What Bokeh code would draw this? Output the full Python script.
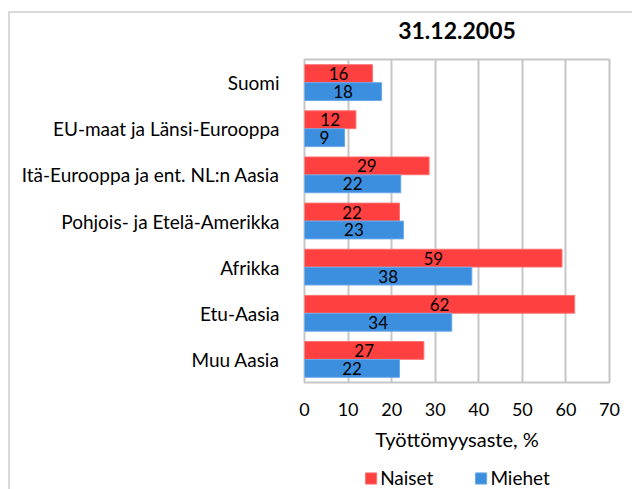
from bokeh.plotting import figure
from bokeh.layouts import column
from bokeh.models import ColumnDataSource, FactorRange, Legend, LegendItem, SingleIntervalTicker
from bokeh.transform import dodge
from bokeh.core.properties import value
from bokeh.embed import file_html
from bokeh.resources import INLINE

categories = ["Suomi", "EU-maat ja Länsi-Eurooppa", "Itä-Eurooppa ja ent. NL:n Aasia",
              "Pohjois- ja Etelä-Amerikka", "Afrikka", "Etu-Aasia", "Muu Aasia"]
naiset = [15.6, 11.8, 28.6, 21.8, 59.1, 62.0, 27.4]
miehet = [17.7, 9.2, 22.1, 22.7, 38.4, 33.8, 21.8]
series_names = ["Naiset", "Miehet"]
title = "31.12.2005"
x_label = "Työttömyysaste, %"

FONT = "Lato"
RED = "#FF4040"
BLUE = "#3C8EDE"
GRID = "#C6C6C6"
W = 622
LEFT, RIGHT = 294, 23
X_RANGE = (0, 70)

# ---------- title strip ----------
tf = figure(width=W, height=44, x_range=X_RANGE, y_range=(0, 1),
            min_border_left=LEFT, min_border_right=RIGHT, min_border_top=0, min_border_bottom=0,
            x_axis_location=None, y_axis_location=None,
            output_backend="svg", toolbar_location=None)
tf.outline_line_color = None
tf.grid.grid_line_color = None
tf.text(x=[sum(X_RANGE) / 2], y=[0.61], text=[title], text_align="center", text_baseline="middle",
        text_font=value(FONT), text_font_size="23px", text_font_style="bold", text_color="#000000")

# ---------- main chart ----------
src = ColumnDataSource(dict(
    cat=categories,
    naiset=naiset,
    miehet=miehet,
    naiset_mid=[v / 2 for v in naiset],
    miehet_mid=[v / 2 for v in miehet],
    naiset_lbl=[str(round(v)) for v in naiset],
    miehet_lbl=[str(round(v)) for v in miehet],
))

p = figure(
    y_range=FactorRange(factors=list(reversed(categories))),
    x_range=X_RANGE,
    width=W, height=402,
    min_border_left=LEFT, min_border_right=RIGHT, min_border_top=2, min_border_bottom=77,
    output_backend="svg", toolbar_location=None,
)

p.hbar(y=dodge("cat", 0.195, range=p.y_range), right="naiset", left=0, height=0.385,
       source=src, fill_color=RED, line_color="#FF7070", line_width=1)
p.hbar(y=dodge("cat", -0.195, range=p.y_range), right="miehet", left=0, height=0.385,
       source=src, fill_color=BLUE, line_color="#6AA8E8", line_width=1)

p.text(x="naiset_mid", y=dodge("cat", 0.195, range=p.y_range), text="naiset_lbl", source=src,
       text_align="center", text_baseline="middle", text_font=value(FONT),
       text_font_size="17px", text_color="#000000")
p.text(x="miehet_mid", y=dodge("cat", -0.195, range=p.y_range), text="miehet_lbl", source=src,
       text_align="center", text_baseline="middle", text_font=value(FONT),
       text_font_size="17px", text_color="#000000")

p.xaxis.ticker = SingleIntervalTicker(interval=10)
p.xaxis.axis_line_color = None
p.xaxis.major_tick_line_color = None
p.xaxis.minor_tick_line_color = None
p.xaxis.major_tick_out = 0
p.xaxis.major_tick_in = 0
p.xaxis.minor_tick_out = 0
p.xaxis.major_label_text_font = FONT
p.xaxis.major_label_text_font_size = "18px"
p.xaxis.major_label_text_color = "#000000"
p.xaxis.major_label_standoff = 20
p.xaxis.axis_label = x_label
p.xaxis.axis_label_text_font = FONT
p.xaxis.axis_label_text_font_size = "20px"
p.xaxis.axis_label_text_font_style = "normal"
p.xaxis.axis_label_text_color = "#000000"
p.xaxis.axis_label_standoff = 8

p.yaxis.axis_line_color = None
p.yaxis.major_tick_line_color = None
p.yaxis.major_tick_out = 0
p.yaxis.major_tick_in = 0
p.yaxis.major_label_text_font = FONT
p.yaxis.major_label_text_font_size = "19px"
p.yaxis.major_label_text_color = "#000000"
p.yaxis.major_label_standoff = 25

p.ygrid.grid_line_color = None
p.xgrid.grid_line_color = GRID
p.xgrid.grid_line_width = 2
p.outline_line_color = GRID
p.outline_line_width = 2

# ---------- legend strip ----------
lf = figure(width=W, height=30, x_range=X_RANGE, y_range=(0, 1),
            min_border_left=LEFT, min_border_right=RIGHT, min_border_top=0, min_border_bottom=0,
            x_axis_location=None, y_axis_location=None,
            output_backend="svg", toolbar_location=None)
lf.outline_line_color = None
lf.grid.grid_line_color = None
# legend key renderers: one bar each, placed below the strip's visible range
k1 = lf.hbar(y=[-5], right=naiset[:1], left=0, height=0.5, fill_color=RED, line_color="#FF7070")
k2 = lf.hbar(y=[-5], right=miehet[:1], left=0, height=0.5, fill_color=BLUE, line_color="#6AA8E8")
legend = Legend(items=[LegendItem(label=series_names[0], renderers=[k1], index=0),
                       LegendItem(label=series_names[1], renderers=[k2], index=0)],
                orientation="horizontal", location="bottom_center",
                label_text_font=FONT, label_text_font_size="19px", label_text_color="#000000",
                glyph_width=14, glyph_height=14, label_standoff=3, spacing=40,
                label_height=20, border_line_color=None, background_fill_alpha=0,
                margin=0, padding=0)
lf.add_layout(legend, "center")

layout = column(tf, p, lf, spacing=0,
                styles={"border-left": "2px solid #D9D9D9", "border-top": "2px solid #D9D9D9",
                        "margin-left": "8px", "margin-top": "11px"})

open("out.html", "w").write(file_html(layout, INLINE))
